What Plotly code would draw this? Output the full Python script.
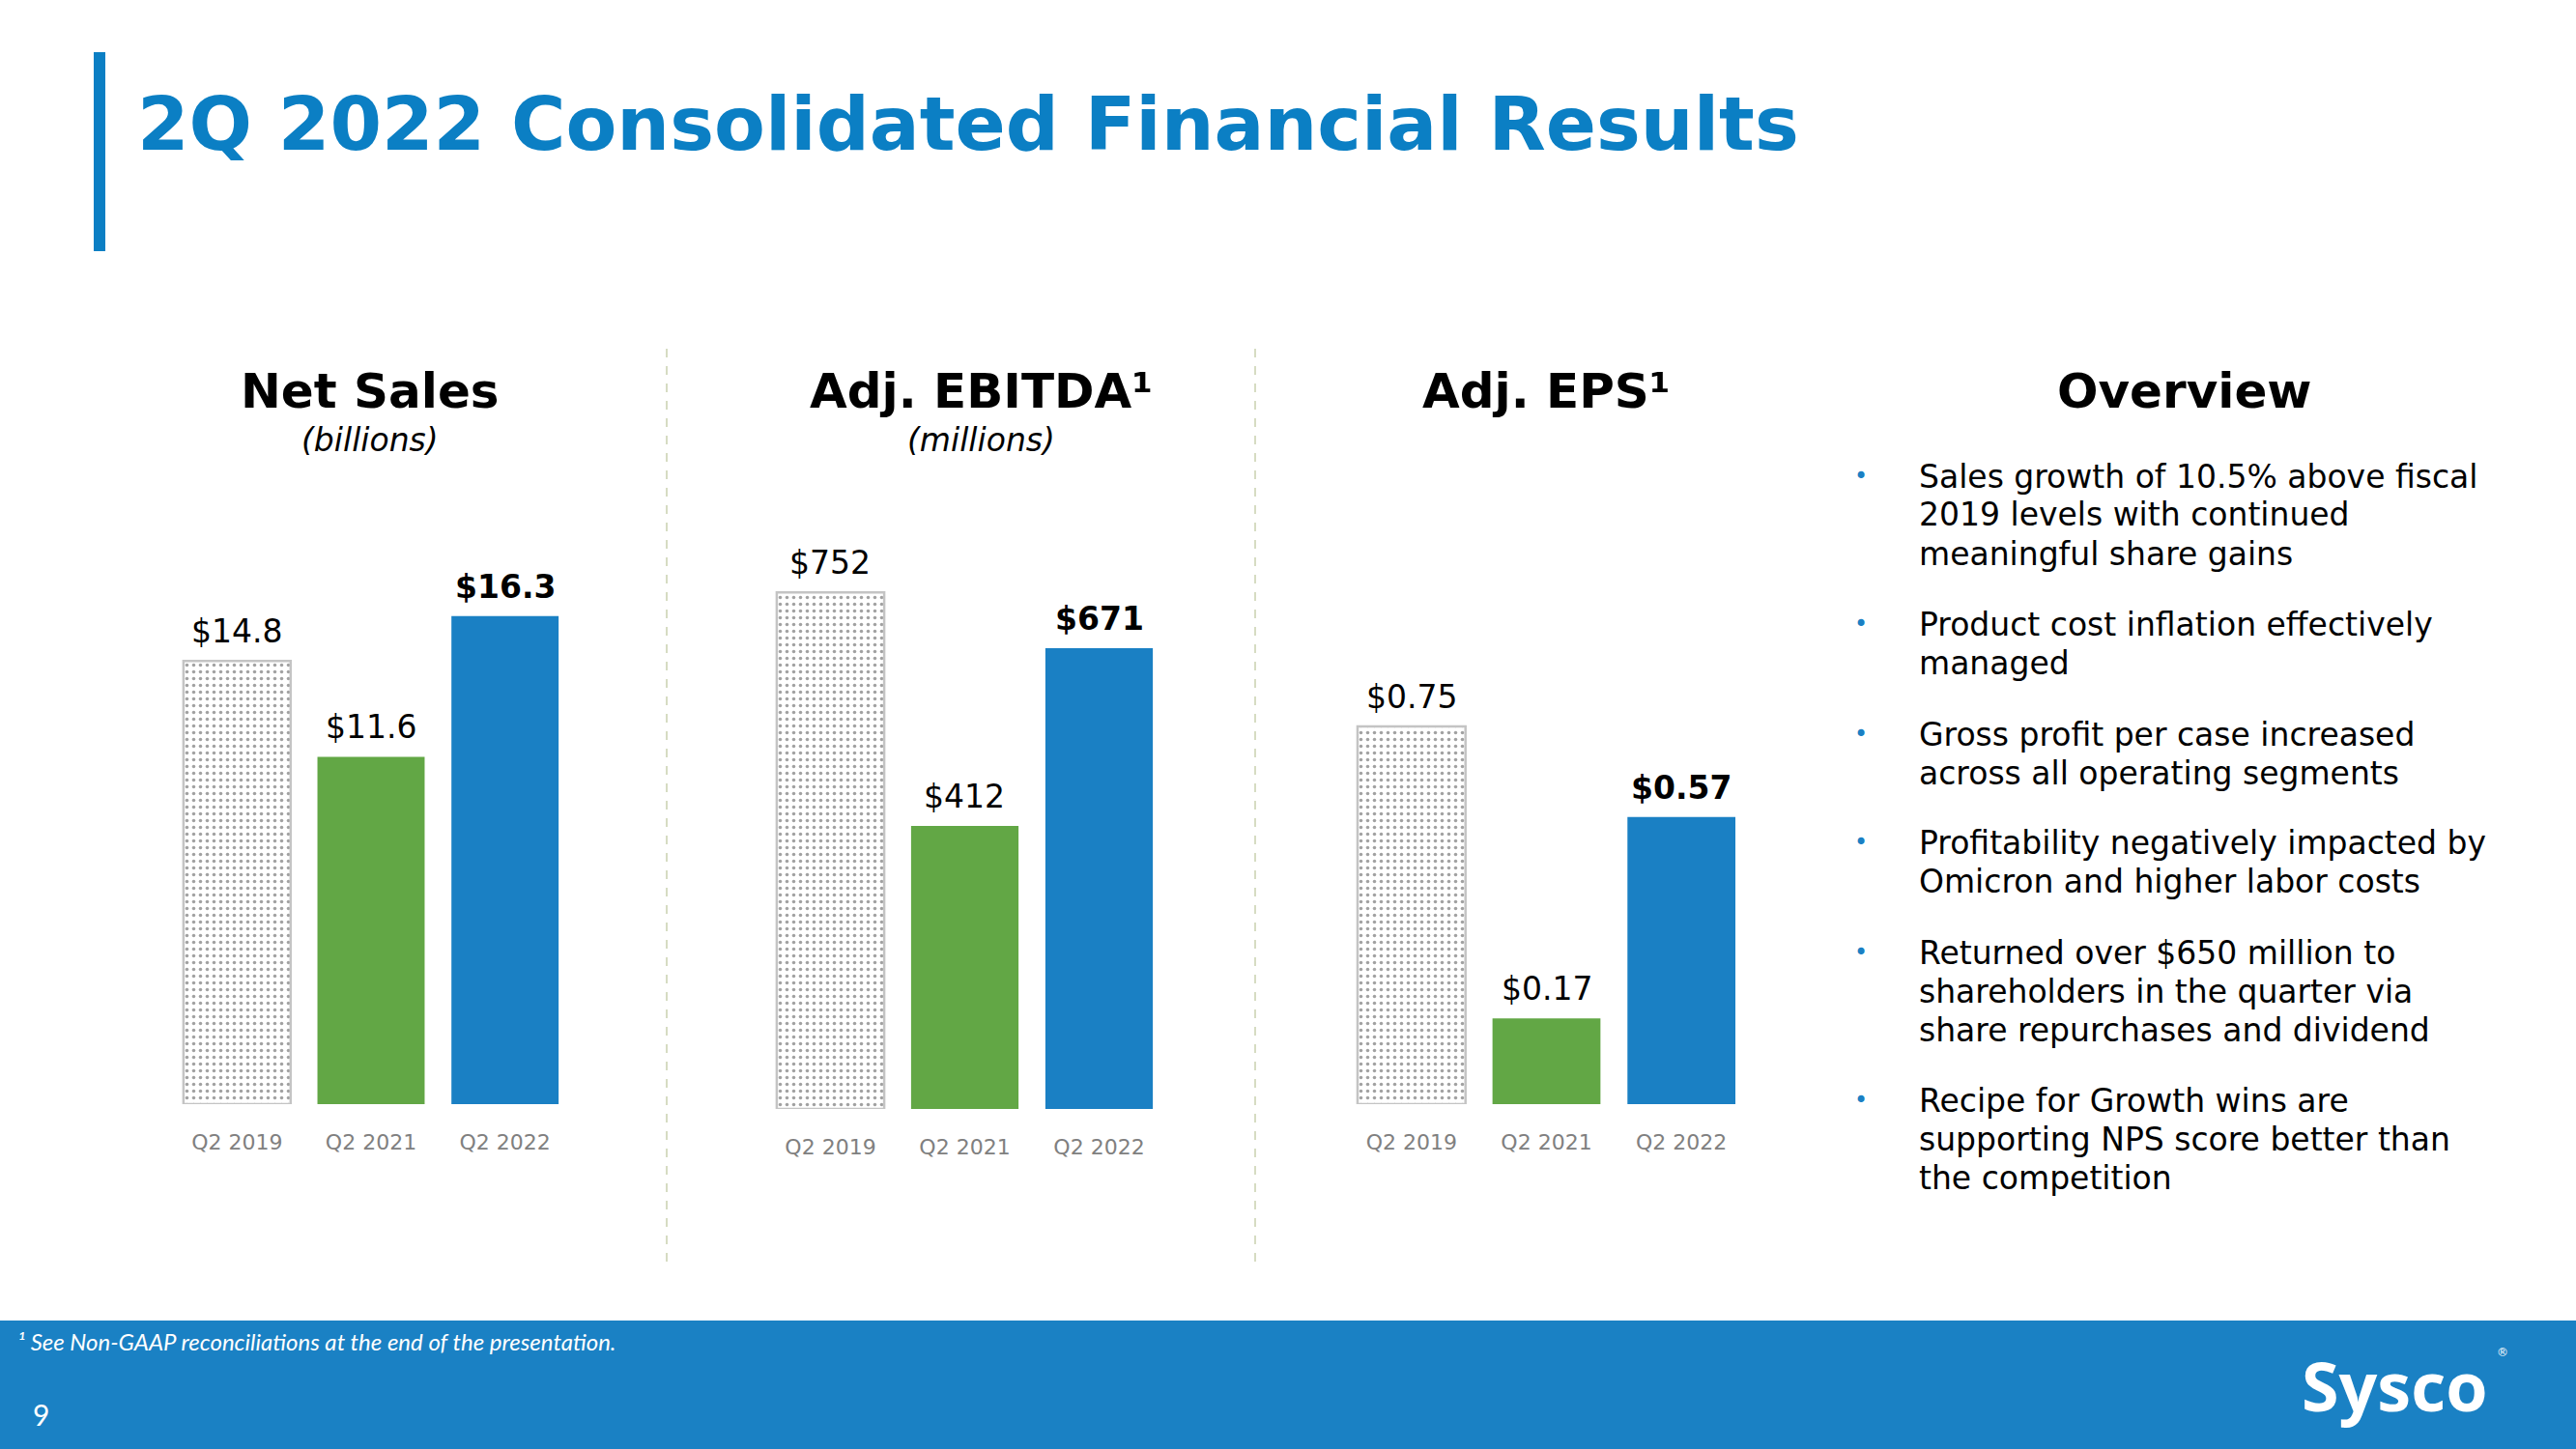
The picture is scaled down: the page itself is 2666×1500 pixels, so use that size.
import plotly.graph_objects as go

# ---------------- data ----------------
categories = ["Q2 2019", "Q2 2021", "Q2 2022"]
net_sales = [14.8, 11.6, 16.3]           # billions
adj_ebitda = [752, 412, 671]             # millions
adj_eps = [0.75, 0.17, 0.57]
net_sales_labels = ["$14.8", "$11.6", "$16.3"]
ebitda_labels = ["$752", "$412", "$671"]
eps_labels = ["$0.75", "$0.17", "$0.57"]

panel_titles = ["Net Sales", "Adj. EBITDA¹", "Adj. EPS¹"]
panel_units = ["(billions)", "(millions)", ""]

slide_title = "2Q 2022 Consolidated Financial Results"
overview_title = "Overview"
overview_bullets = [
    ["Sales growth of 10.5% above fiscal", "2019 levels with continued", "meaningful share gains"],
    ["Product cost inflation effectively", "managed"],
    ["Gross profit per case increased", "across all operating segments"],
    ["Profitability negatively impacted by", "Omicron and higher labor costs"],
    ["Returned over $650 million to", "shareholders in the quarter via", "share repurchases and dividend"],
    ["Recipe for Growth wins are", "supporting NPS score better than", "the competition"],
]
footnote = "¹ See Non-GAAP reconciliations at the end of the presentation."
page_number = "9"

# ---------------- styling / layout ----------------
W, H = 2666, 1500
def px(x):
    return x / W
def py(y):
    return 1 - y / H

BLUE = "#1a80c4"
GREEN = "#62a745"
TITLE_BLUE = "#0b7fc4"
FONT = "DejaVu Sans"

bar_colors = ["white", GREEN, BLUE]
pattern_shapes = [".", "", ""]
line_colors = ["#c4c4c4", GREEN, BLUE]
line_widths = [2.5, 0, 0]

series = [net_sales, adj_ebitda, adj_eps]
labels = [net_sales_labels, ebitda_labels, eps_labels]

# x domains (pixels) and y base (pixels) and y-scale (px per unit)
x_domains = [(176, 592), (790, 1207), (1391, 1810)]
y_bases = [1143, 1148, 1143]
y_top = 510
px_per_unit = [31.0, 0.711, 521.5]
header_x = [383, 1015, 1600]

fig = go.Figure()
annotations = []
shapes = []

for i in range(3):
    xa = "x" if i == 0 else f"x{i+1}"
    ya = "y" if i == 0 else f"y{i+1}"
    fig.add_trace(go.Bar(
        x=categories, y=series[i], xaxis=xa, yaxis=ya,
        marker=dict(
            color=bar_colors,
            line=dict(color=line_colors, width=line_widths),
            pattern=dict(shape=pattern_shapes, fgcolor="#808080", bgcolor="white",
                         size=7, solidity=0.2),
        ),
        showlegend=False, hoverinfo="skip",
    ))
    d0, d1 = x_domains[i]
    base = y_bases[i]
    height_px = base - y_top
    ymax = height_px / px_per_unit[i]
    key = "" if i == 0 else str(i + 1)
    fig.update_layout(**{
        f"xaxis{key}": dict(domain=[px(d0), px(d1)], range=[-0.5, 2.5], type="category",
                            showgrid=False, zeroline=False, showline=False,
                            ticks="", ticklabelstandoff=24,
                            tickfont=dict(family=FONT, size=22, color="#808080"),
                            anchor=ya, fixedrange=True),
        f"yaxis{key}": dict(domain=[py(base), py(y_top)], range=[0, ymax],
                            visible=False, anchor=xa, fixedrange=True),
    })
    # value labels
    for j, (c, v, t) in enumerate(zip(categories, series[i], labels[i])):
        annotations.append(dict(
            x=c, y=v, xref=xa, yref=ya, text=t, showarrow=False,
            yanchor="bottom", yshift=9,
            font=dict(family=FONT, size=33, color="black",
                      weight="bold" if j == 2 else "normal"),
        ))
    # headers
    annotations.append(dict(x=px(header_x[i]), y=py(405), xref="paper", yref="paper",
                            text=panel_titles[i], showarrow=False, xanchor="center",
                            yanchor="middle",
                            font=dict(family=FONT, size=50, color="black", weight="bold")))
    if panel_units[i]:
        annotations.append(dict(x=px(header_x[i]), y=py(455), xref="paper", yref="paper",
                                text=panel_units[i], showarrow=False, xanchor="center",
                                yanchor="middle",
                                font=dict(family=FONT, size=33, color="black",
                                          style="italic")))

# slide title
annotations.append(dict(x=px(140), y=py(128), xref="paper", yref="paper", text=slide_title,
                        showarrow=False, xanchor="left", yanchor="middle",
                        font=dict(family=FONT, size=77, color=TITLE_BLUE, weight="bold")))

# overview
annotations.append(dict(x=px(2261), y=py(405), xref="paper", yref="paper", text=overview_title,
                        showarrow=False, xanchor="center", yanchor="middle",
                        font=dict(family=FONT, size=50, color="black", weight="bold")))
group_starts = [493, 646, 760, 872, 986, 1139]
line_step = 40
for g, lines in zip(group_starts, overview_bullets):
    annotations.append(dict(x=px(1926), y=py(g), xref="paper", yref="paper", text="•",
                            showarrow=False, xanchor="center", yanchor="middle",
                            font=dict(family=FONT, size=24, color=BLUE)))
    for k, ln in enumerate(lines):
        annotations.append(dict(x=px(1984), y=py(g + k * line_step), xref="paper", yref="paper",
                                text=ln, showarrow=False, xanchor="left", yanchor="middle",
                                font=dict(family=FONT, size=33, color="black")))

# footer
shapes.append(dict(type="rect", xref="paper", yref="paper", x0=0, x1=1, y0=0, y1=py(1367),
                   fillcolor="#1a81c4", line=dict(width=0), layer="above"))
annotations.append(dict(x=px(16), y=py(1388), xref="paper", yref="paper", text=footnote,
                        showarrow=False, xanchor="left", yanchor="middle",
                        font=dict(family="Lato", size=24, color="white", style="italic")))
annotations.append(dict(x=px(32), y=py(1464), xref="paper", yref="paper", text=page_number,
                        showarrow=False, xanchor="left", yanchor="middle",
                        font=dict(family="Lato", size=30, color="white")))
annotations.append(dict(x=px(2478), y=py(1434), xref="paper", yref="paper", text="Sysco",
                        showarrow=False, xanchor="center", yanchor="middle",
                        font=dict(family="Open Sans", size=70, color="white", weight="bold")))
annotations.append(dict(x=px(2590), y=py(1400), xref="paper", yref="paper", text="®",
                        showarrow=False, xanchor="center", yanchor="middle",
                        font=dict(family="DejaVu Sans", size=12, color="white")))

# left title accent bar
shapes.append(dict(type="rect", xref="paper", yref="paper", x0=px(97), x1=px(109),
                   y0=py(260), y1=py(54), fillcolor="#0b7fc4", line=dict(width=0)))
# dashed separators
for sx in [690, 1299]:
    shapes.append(dict(type="line", xref="paper", yref="paper", x0=px(sx), x1=px(sx),
                       y0=py(1306), y1=py(352),
                       line=dict(color="#d6dcc2", width=2, dash="dash")))

fig.update_layout(
    width=W, height=H, margin=dict(l=0, r=0, t=0, b=0),
    paper_bgcolor="white", plot_bgcolor="white",
    bargap=0.2, annotations=annotations, shapes=shapes,
)

fig.write_html("out.html", config={"displayModeBar": False},
               post_script="document.body.style.margin='0';document.body.style.overflow='hidden';")
